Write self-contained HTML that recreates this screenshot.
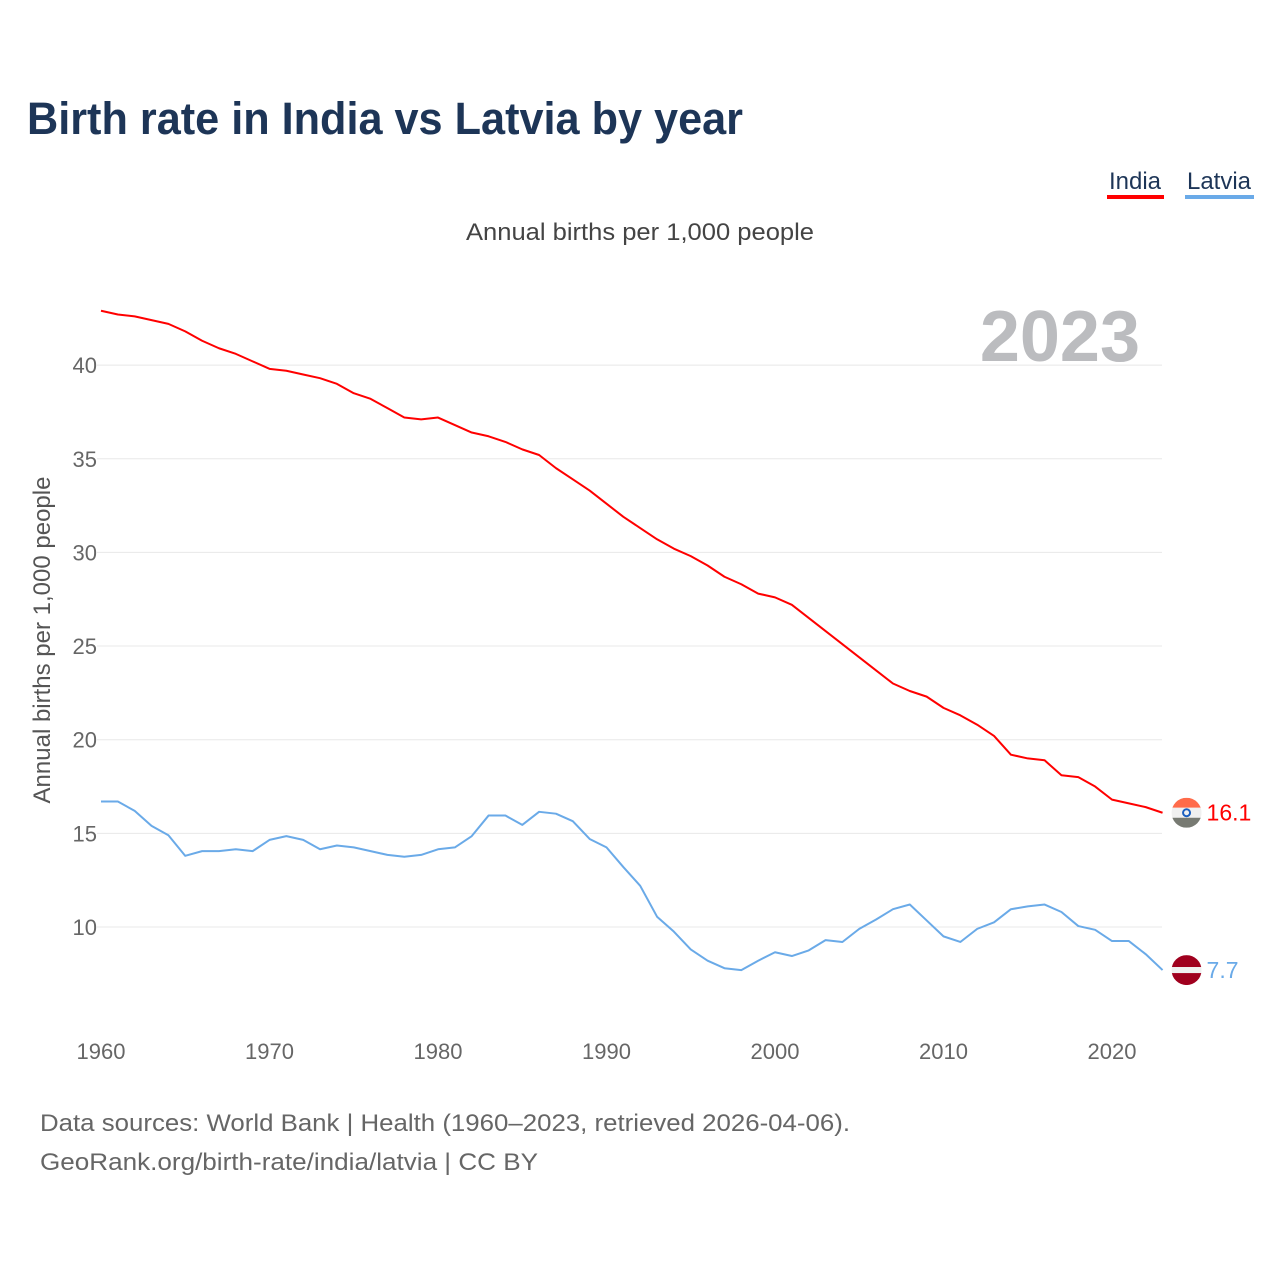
<!DOCTYPE html>
<html><head><meta charset="utf-8">
<style>
body{margin:0;background:#fff;font-family:"Liberation Sans",sans-serif;}
#wrap{position:relative;width:1280px;height:1280px;overflow:hidden;}
</style></head>
<body>
<div id="wrap">
<svg id="chart" width="1280" height="1280" xmlns="http://www.w3.org/2000/svg">
<text x="27" y="134" font-size="45" font-weight="bold" fill="#1d3557" textLength="716" lengthAdjust="spacingAndGlyphs">Birth rate in India vs Latvia by year</text>
<g><text x="1135" y="189" font-size="24" fill="#1d3557" text-anchor="middle">India</text><rect x="1107" y="195" width="57" height="4" fill="#ff0000"/></g>
<g><text x="1219" y="189" font-size="24" fill="#1d3557" text-anchor="middle">Latvia</text><rect x="1185" y="195" width="69" height="4" fill="#6aaae8"/></g>
<text x="466" y="240" font-size="24" fill="#444" textLength="348" lengthAdjust="spacingAndGlyphs">Annual births per 1,000 people</text>
<text x="1140" y="361" font-size="72" font-weight="bold" fill="#bbbcbf" text-anchor="end">2023</text>
<text transform="translate(50,640) rotate(-90)" font-size="24" fill="#555" text-anchor="middle">Annual births per 1,000 people</text>
<g id="grid"></g><g id="series"></g>
<text x="40" y="1131" font-size="24" fill="#666" textLength="810" lengthAdjust="spacingAndGlyphs">Data sources: World Bank | Health (1960–2023, retrieved 2026-04-06).</text>
<text x="40" y="1170" font-size="24" fill="#666" textLength="498" lengthAdjust="spacingAndGlyphs">GeoRank.org/birth-rate/india/latvia | CC BY</text>
</svg>
</div>
<script>
const years=[];for(let y=1960;y<=2023;y++)years.push(y);
const india=[42.9,42.7,42.6,42.4,42.2,41.8,41.3,40.9,40.6,40.2,39.8,39.7,39.5,39.3,39.0,38.5,38.2,37.7,37.2,37.1,37.2,36.8,36.4,36.2,35.9,35.5,35.2,34.5,33.9,33.3,32.6,31.9,31.3,30.7,30.2,29.8,29.3,28.7,28.3,27.8,27.6,27.2,26.5,25.8,25.1,24.4,23.7,23.0,22.6,22.3,21.7,21.3,20.8,20.2,19.2,19.0,18.9,18.1,18.0,17.5,16.8,16.6,16.4,16.1];
const latvia=[16.7,16.7,16.2,15.4,14.9,13.8,14.05,14.05,14.15,14.05,14.65,14.85,14.65,14.15,14.35,14.25,14.05,13.85,13.75,13.85,14.15,14.25,14.85,15.95,15.95,15.45,16.15,16.05,15.65,14.7,14.25,13.2,12.2,10.55,9.75,8.8,8.2,7.8,7.7,8.2,8.65,8.45,8.75,9.3,9.2,9.9,10.4,10.95,11.2,10.35,9.5,9.2,9.9,10.25,10.95,11.1,11.2,10.8,10.05,9.85,9.25,9.25,8.55,7.7];
const yTicks=[10,15,20,25,30,35,40];
const xTicks=[1960,1970,1980,1990,2000,2010,2020];
const NS="http://www.w3.org/2000/svg";
const xs=y=>101+(y-1960)*16.85;
const ys=v=>1114.3-v*18.73;
const grid=document.getElementById('grid'),ser=document.getElementById('series');
function mk(tag,at,parent){const e=document.createElementNS(NS,tag);for(const k in at)e.setAttribute(k,at[k]);parent.appendChild(e);return e;}
yTicks.forEach(v=>{
 const l=mk('line',{x1:97,x2:1162,y1:ys(v),y2:ys(v),stroke:'#e8e8e8','stroke-width':1},grid);
 
 
 const t=mk('text',{x:97,y:ys(v)+8,'font-size':22,fill:'#666','text-anchor':'end'},grid);t.textContent=v;
 
 
});
xTicks.forEach(v=>{
 const t=mk('text',{x:xs(v),y:1059,'font-size':22,fill:'#666','text-anchor':'middle'},grid);t.textContent=v;
 
 
});
function line(data,color,name){
 const p=mk('polyline',{points:data.map((v,i)=>xs(years[i])+','+ys(v)).join(' '),fill:'none',stroke:color,'stroke-width':2,'stroke-linejoin':'round'},ser);
 
 
}
line(india,'#ff0000','india-line');
line(latvia,'#6aaae8','latvia-line');
const lx=xs(2023)+24;
function flag(v,stripes,name,label,color){
 const cy=ys(v);
 const g=mk('g',{},ser);
 
 
 const id='c'+name;
 const cp=mk('clipPath',{id:id},g);mk('circle',{cx:lx,cy:cy,r:15},cp);
 const gg=mk('g',{'clip-path':'url(#'+id+')'},g);
 stripes.forEach((s,i)=>mk('rect',{x:lx-15,y:cy-15+s[0],width:30,height:s[1],fill:s[2]},gg));
 const t=mk('text',{x:lx+20,y:cy+8,'font-size':23,fill:color},g);t.textContent=label;
 return gg;
}
const ig=flag(india[63],[[0,10,'#ff6b4a'],[10,10,'#f0f0f0'],[20,10,'#777a72']],'india-end-flag','16.1','#ff0000');
mk('circle',{cx:lx,cy:ys(india[63]),r:3.5,fill:'none',stroke:'#1a5fc0','stroke-width':2},ig);
flag(latvia[63],[[0,12,'#a0001e'],[12,6,'#f0f0f0'],[18,12,'#a0001e']],'latvia-end-flag','7.7','#6aaae8');
</script>
</body></html>
